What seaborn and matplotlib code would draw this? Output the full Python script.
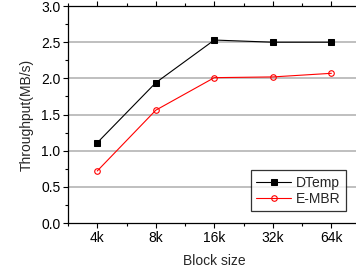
import pandas as pd
import matplotlib.pyplot as plt
import seaborn as sns
from matplotlib.ticker import MultipleLocator, FixedLocator

# data
block_sizes = ['4k', '8k', '16k', '32k', '64k']
dtemp = [1.11, 1.94, 2.53, 2.50, 2.50]
embr = [0.72, 1.56, 2.01, 2.02, 2.07]

df = pd.DataFrame({
    'pos': list(range(len(block_sizes))) * 2,
    'throughput': dtemp + embr,
    'method': ['DTemp'] * len(dtemp) + ['E-MBR'] * len(embr),
})

sns.set_style('ticks')
plt.rcParams['font.family'] = ['Liberation Sans', 'DejaVu Sans']

fig = plt.figure(figsize=(3.56, 2.75), dpi=100)
ax = fig.add_axes([0.191, 0.189, 0.822, 0.789])

for y in [0.5, 1.0, 1.5, 2.0, 2.5]:
    ax.axhline(y, color='#b4b4b4', lw=1.2, zorder=0)

sns.lineplot(data=df[df.method == 'DTemp'], x='pos', y='throughput', ax=ax,
             color='black', lw=0.8, marker='s', markersize=4,
             markerfacecolor='black', markeredgecolor='black', label='DTemp')
sns.lineplot(data=df[df.method == 'E-MBR'], x='pos', y='throughput', ax=ax,
             color='red', lw=0.8, marker='o', markersize=4,
             markerfacecolor='none', markeredgecolor='red', markeredgewidth=0.8,
             label='E-MBR')

ax.set_xlim(-0.5, 4.5)
ax.set_ylim(0, 3.0)
ax.set_xticks(range(len(block_sizes)))
ax.set_xticklabels(block_sizes)
ax.xaxis.set_minor_locator(FixedLocator([-0.5 + i for i in range(6)]))
ax.yaxis.set_major_locator(MultipleLocator(0.5))
ax.yaxis.set_minor_locator(MultipleLocator(0.25))
ax.yaxis.set_major_formatter(plt.FormatStrFormatter('%.1f'))

for s in ax.spines.values():
    s.set_linewidth(0.9)
    s.set_color('black')
ax.tick_params(which='both', direction='out', top=True, labeltop=False,
               width=0.8, colors='black', labelsize=10, pad=2)
ax.tick_params(which='major', length=3.5)
ax.tick_params(which='minor', length=2.5)

ax.set_xlabel('Block size', fontsize=10, labelpad=7)
ax.set_ylabel('Throughput(MB/s)', fontsize=10, labelpad=5)

leg = ax.legend(loc='lower right', bbox_to_anchor=(0.95, 0.055), fontsize=10,
                frameon=True, fancybox=False, edgecolor='black',
                handlelength=2.5, borderpad=0.4, labelspacing=0.12,
                handletextpad=0.35, borderaxespad=0)
leg.get_frame().set_linewidth(0.9)

fig.savefig('out.png', dpi=100)
